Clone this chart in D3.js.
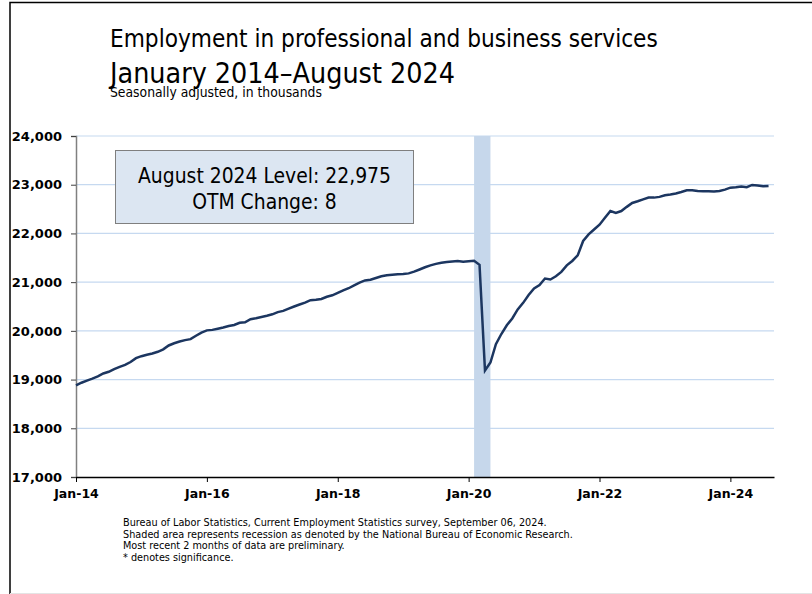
<!DOCTYPE html>
<html>
<head>
<meta charset="utf-8">
<script src="https://cdn.jsdelivr.net/npm/d3@7"></script>
<style>
  body { margin: 0; background: #fff; }
  svg { display: block; font-family: "DejaVu Sans Condensed", "DejaVu Sans", sans-serif; }
</style>
</head>
<body>
<svg id="chart" width="812" height="594"></svg>
<script>
// employment, professional and business services, SA, thousands
var emp2014 = [18880, 18935, 18980, 19020, 19065, 19125, 19160, 19215, 19260, 19300, 19360, 19440];
var emp2015 = [19480, 19510, 19535, 19570, 19620, 19700, 19745, 19780, 19810, 19830, 19900, 19965];
var emp2016 = [20010, 20020, 20045, 20070, 20100, 20120, 20165, 20175, 20240, 20260, 20285, 20310];
var emp2017 = [20340, 20385, 20410, 20455, 20500, 20540, 20580, 20630, 20640, 20655, 20700, 20730];
var emp2018 = [20780, 20830, 20875, 20935, 20990, 21035, 21050, 21085, 21120, 21140, 21150, 21160];
var emp2019 = [21165, 21180, 21215, 21260, 21305, 21345, 21375, 21400, 21415, 21425, 21435, 21420];
var emp2020 = [21430, 21440, 21355, 19185, 19350, 19725, 19935, 20115, 20255, 20440, 20575, 20735];
var emp2021 = [20870, 20940, 21075, 21055, 21120, 21210, 21345, 21435, 21550, 21845, 21980, 22080];
var emp2022 = [22180, 22320, 22460, 22420, 22460, 22545, 22625, 22660, 22700, 22735, 22735, 22750];
var emp2023 = [22785, 22800, 22820, 22850, 22885, 22885, 22870, 22865, 22865, 22860, 22870, 22900];
var emp2024 = [22940, 22950, 22965, 22950, 22995, 22985, 22967, 22975];

var yTicks = [17000, 18000, 19000, 20000, 21000, 22000, 23000, 24000];
var xTickLabels = ["Jan-14", "Jan-16", "Jan-18", "Jan-20", "Jan-22", "Jan-24"];
var recession = ["2020-02", "2020-04"];

var titleLines = ["Employment in professional and business services", "January 2014\u2013August 2024"];
var subtitle = "Seasonally adjusted, in thousands";
var notes = [
  "Bureau of Labor Statistics, Current Employment Statistics survey, September 06, 2024.",
  "Shaded area represents recession as denoted by the National Bureau of Economic Research.",
  "Most recent 2 months of data are preliminary.",
  "* denotes significance."
];

var employment = [].concat(emp2014, emp2015, emp2016, emp2017, emp2018, emp2019,
  emp2020, emp2021, emp2022, emp2023, emp2024);
var months = d3.timeMonth.range(new Date(2014, 0, 1), new Date(2014, employment.length, 1));
var monthFmt = d3.timeFormat("%Y-%m");
var keyOf = months.map(monthFmt);

var svg = d3.select("#chart");

var margin = { left: 76, right: 38, top: 136, bottom: 117 };
var W = 812, H = 594;

// one extra category slot after the last month, like the original axis
var x = d3.scaleLinear()
  .domain([0, employment.length])
  .range([margin.left, W - margin.right]);
var y = d3.scaleLinear()
  .domain([17000, 24000])
  .range([H - margin.bottom, margin.top]);

function fitWidth(sel, target) {
  sel.each(function () {
    var fs = parseFloat(this.getAttribute("font-size"));
    var w = this.getComputedTextLength();
    this.setAttribute("font-size", (fs * target / w).toFixed(2));
  });
}

// frame
svg.append("rect")
  .attr("x", 10).attr("y", 2.5)
  .attr("width", 900).attr("height", 700)
  .attr("fill", "none")
  .attr("stroke", "#000")
  .attr("stroke-width", 1.5);
svg.append("line")
  .attr("x1", 10).attr("x2", W).attr("y1", H - 0.5).attr("y2", H - 0.5)
  .attr("stroke", "#e4e4e4");

// titles
var t1 = svg.append("text").attr("x", 110).attr("y", 47)
  .attr("font-size", 24).attr("fill", "#000").text(titleLines[0]);
fitWidth(t1, 548);
var t2 = svg.append("text").attr("x", 110).attr("y", 83)
  .attr("font-size", 28).attr("fill", "#000").text(titleLines[1]);
fitWidth(t2, 345);
var t3 = svg.append("text").attr("x", 110).attr("y", 97)
  .attr("font-size", 12).attr("fill", "#000").text(subtitle);
fitWidth(t3, 212);

// grid
svg.append("g").attr("class", "grid")
  .selectAll("line")
  .data(yTicks.slice(1))
  .enter().append("line")
  .attr("x1", x(0)).attr("x2", x(employment.length))
  .attr("y1", function (d) { return y(d); })
  .attr("y2", function (d) { return y(d); })
  .attr("stroke", "#c6d9f0")
  .attr("stroke-width", 1.2);

// recession shading
var rStart = keyOf.indexOf(recession[0]);
var rEnd = keyOf.indexOf(recession[1]) + 1;
svg.append("rect")
  .attr("x", x(rStart))
  .attr("y", y(24000))
  .attr("width", x(rEnd) - x(rStart))
  .attr("height", y(17000) - y(24000))
  .attr("fill", "#c6d7eb");

// axes
var yAxis = svg.append("g")
  .attr("transform", "translate(" + x(0) + ",0)")
  .call(d3.axisLeft(y).tickValues(yTicks).tickFormat(d3.format(",")).tickSize(5).tickPadding(9));
yAxis.select(".domain").attr("stroke", "#808080").attr("stroke-width", 1.5);
yAxis.selectAll(".tick line").attr("stroke", "#404040");
yAxis.selectAll("text")
  .attr("font-family", "DejaVu Sans").attr("font-size", 13).attr("font-weight", "bold").attr("fill", "#000");

var xTickIdx = xTickLabels.map(function (lab) {
  var p = d3.timeParse("%b-%y")(lab);
  return keyOf.indexOf(monthFmt(p));
});
var xAxis = svg.append("g")
  .attr("transform", "translate(0," + y(17000) + ")")
  .call(d3.axisBottom(x).tickValues(xTickIdx)
    .tickFormat(function (d, i) { return xTickLabels[i]; })
    .tickSize(5).tickPadding(7).tickSizeOuter(0));
xAxis.select(".domain").attr("stroke", "#000").attr("stroke-width", 1.5);
xAxis.selectAll(".tick line").attr("stroke", "#000");
xAxis.selectAll("text")
  .attr("font-family", "DejaVu Sans").attr("font-size", 12.5).attr("font-weight", "bold").attr("fill", "#000");

// line
var line = d3.line()
  .x(function (d, i) { return x(i); })
  .y(function (d) { return y(d); });
svg.append("path")
  .datum(employment)
  .attr("d", line)
  .attr("fill", "none")
  .attr("stroke", "#1c3660")
  .attr("stroke-width", 2.5)
  .attr("stroke-linejoin", "miter");

// annotation box
var last = employment[employment.length - 1];
var change = last - employment[employment.length - 2];
var lastName = d3.timeFormat("%B %Y")(months[months.length - 1]);
svg.append("rect")
  .attr("x", 115.5).attr("y", 150.5)
  .attr("width", 298).attr("height", 73)
  .attr("fill", "#dce6f2")
  .attr("stroke", "#7f7f7f");
var b1 = svg.append("text").attr("x", 264.5).attr("y", 183)
  .attr("text-anchor", "middle").attr("font-size", 20)
  .text(lastName + " Level: " + d3.format(",")(last));
fitWidth(b1, 253);
svg.append("text").attr("x", 264.5).attr("y", 209)
  .attr("text-anchor", "middle").attr("font-size", b1.attr("font-size"))
  .text("OTM Change: " + d3.format(",")(change));

// footnotes
var noteG = svg.append("g").attr("class", "notes");
var noteText = noteG.selectAll("text")
  .data(notes)
  .enter().append("text")
  .attr("x", 123)
  .attr("y", function (d, i) { return 526 + i * 11.7; })
  .attr("font-size", 10)
  .attr("fill", "#000")
  .text(function (d) { return d; });
var firstNote = noteText.filter(function (d, i) { return i === 0; });
fitWidth(firstNote, 424);
noteText.attr("font-size", firstNote.attr("font-size"));
</script>
</body>
</html>
